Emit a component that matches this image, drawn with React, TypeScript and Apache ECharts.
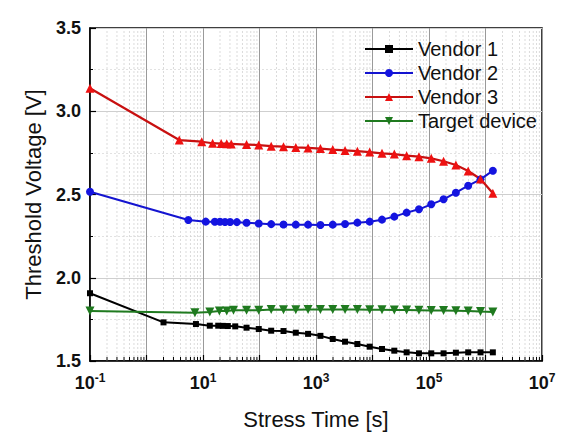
import React, { useEffect, useRef } from 'react';
import * as echarts from 'echarts';

// stress time [s] / threshold voltage [V]
const vendor1Times = [0.1, 2.0, 7.5, 13.2, 18.6, 22.4, 27.5, 37.2, 59, 97, 161, 266, 439, 724, 1197, 1977, 3266, 5395, 8913, 14723, 24322, 40179, 66374, 109648, 181134, 299226, 494311, 816582, 1348963];
const vendor1Values = [1.907, 1.732, 1.722, 1.712, 1.712, 1.711, 1.71, 1.708, 1.70, 1.692, 1.682, 1.68, 1.67, 1.663, 1.651, 1.632, 1.616, 1.602, 1.586, 1.572, 1.562, 1.552, 1.546, 1.546, 1.546, 1.55, 1.552, 1.552, 1.552];

const vendor2Times = [0.1, 5.5, 11.2, 16.2, 20, 24.5, 30.2, 39.8, 59, 97, 161, 266, 439, 724, 1197, 1977, 3266, 5395, 8913, 14723, 24322, 40179, 66374, 109648, 181134, 299226, 494311, 816582, 1348963];
const vendor2Values = [2.517, 2.347, 2.337, 2.336, 2.336, 2.335, 2.335, 2.334, 2.33, 2.326, 2.322, 2.32, 2.319, 2.319, 2.317, 2.319, 2.323, 2.331, 2.337, 2.349, 2.367, 2.391, 2.411, 2.441, 2.471, 2.511, 2.553, 2.591, 2.643];

const vendor3Times = [0.1, 3.8, 9.5, 14.8, 21, 26.3, 31.6, 59, 97, 161, 266, 439, 724, 1197, 1977, 3266, 5395, 8913, 14723, 24322, 40179, 66374, 109648, 181134, 299226, 494311, 816582, 1348963];
const vendor3Values = [3.138, 2.827, 2.817, 2.808, 2.806, 2.805, 2.804, 2.80, 2.797, 2.79, 2.787, 2.783, 2.78, 2.776, 2.77, 2.765, 2.76, 2.755, 2.747, 2.743, 2.733, 2.727, 2.717, 2.70, 2.677, 2.641, 2.593, 2.507];

const targetTimes = [0.1, 7.2, 13.2, 19.5, 26.3, 34.7, 59, 97, 161, 266, 439, 724, 1197, 1977, 3266, 5395, 8913, 14723, 24322, 40179, 66374, 109648, 181134, 299226, 494311, 816582, 1348963];
const targetValues = [1.80, 1.79, 1.795, 1.80, 1.80, 1.805, 1.805, 1.805, 1.81, 1.808, 1.808, 1.81, 1.81, 1.81, 1.81, 1.81, 1.808, 1.808, 1.806, 1.806, 1.805, 1.804, 1.803, 1.802, 1.80, 1.797, 1.795];

const seriesNames = ['Vendor 1', 'Vendor 2', 'Vendor 3', 'Target device'];

// log axis decades and the minor tick multipliers inside each decade
const decades = [-1, 0, 1, 2, 3, 4, 5, 6];
const minorSteps = [2, 3, 4, 5, 6, 7, 8, 9];

const pairs = (xs: number[], ys: number[]) => xs.map((x, i) => [x, ys[i]]);

const App: React.FC = () => {
  const chartRef = useRef<HTMLDivElement>(null);

  useEffect(() => {
    if (!chartRef.current) return;
    const chart = echarts.init(chartRef.current, undefined, { renderer: 'svg' });

    const minorTicks = decades.flatMap(d => minorSteps.map(m => [m * Math.pow(10, d), 1.5]));
    const font = 'Liberation Sans, Arial, sans-serif';

    const option: any = {
      animation: false,
      backgroundColor: '#fff',
      textStyle: { fontFamily: font },
      grid: {
        left: 90,
        right: 34,
        top: 28,
        bottom: 80,
        show: true,
        borderColor: '#000',
        borderWidth: 1.5,
        backgroundColor: 'transparent'
      },
      legend: {
        data: seriesNames,
        orient: 'vertical',
        left: 359,
        top: 33,
        itemWidth: 48,
        itemHeight: 10,
        itemGap: 2,
        textStyle: { fontSize: 20, color: '#111', lineHeight: 22, fontFamily: font }
      },
      xAxis: {
        type: 'log',
        logBase: 10,
        min: 0.1,
        max: 1e7,
        name: 'Stress Time [s]',
        nameLocation: 'middle',
        nameGap: 47,
        nameTextStyle: { fontSize: 22, color: '#111', fontFamily: font },
        axisLine: { lineStyle: { color: '#000', width: 1.5 } },
        axisTick: { inside: true, length: 6, lineStyle: { color: '#000', width: 1.2 } },
        axisLabel: {
          interval: 0,
          margin: 11,
          formatter: (v: number) => {
            const e = Math.round(Math.log10(v));
            if (e % 2 === 0) return '';
            return `{b|10}{s|${e}}`;
          },
          rich: {
            b: { fontSize: 18, fontWeight: 'bold', color: '#111', fontFamily: font, lineHeight: 22 },
            s: { fontSize: 12, fontWeight: 'bold', color: '#111', fontFamily: font, verticalAlign: 'top', lineHeight: 12 }
          }
        },
        splitLine: { show: true, lineStyle: { color: '#9a9a9a', width: 1 } }
      },
      yAxis: {
        type: 'value',
        min: 1.5,
        max: 3.5,
        interval: 0.5,
        name: 'Threshold Voltage [V]',
        nameLocation: 'middle',
        nameGap: 46,
        nameTextStyle: { fontSize: 22, color: '#111', fontFamily: font },
        axisLine: { show: true, lineStyle: { color: '#000', width: 1.5 } },
        axisTick: { inside: true, length: 6, lineStyle: { color: '#000', width: 1.2 } },
        minorTick: { show: true, splitNumber: 2, length: 3, lineStyle: { color: '#000', width: 1 } },
        axisLabel: {
          fontSize: 18,
          fontWeight: 'bold',
          color: '#111',
          margin: 9,
          formatter: (v: number) => v.toFixed(1)
        },
        splitLine: { show: true, lineStyle: { color: '#cfcfcf', width: 1 } },
        minorSplitLine: { show: true, lineStyle: { color: '#dadada', width: 0.8, type: [2, 2] } }
      },
      series: [
        {
          name: 'minor',
          type: 'custom',
          z: 1,
          silent: true,
          encode: { x: 0, y: 1 },
          data: minorTicks,
          renderItem: (_params: any, api: any) => {
            const t = api.value(0);
            const bottom = api.coord([t, 1.5]);
            const top = api.coord([t, 3.5]);
            return {
              type: 'group',
              children: [
                {
                  type: 'line',
                  shape: { x1: bottom[0], y1: bottom[1], x2: top[0], y2: top[1] },
                  style: { stroke: '#d2d2d2', lineWidth: 0.8, lineDash: [2, 2] }
                },
                {
                  type: 'line',
                  shape: { x1: bottom[0], y1: bottom[1], x2: bottom[0], y2: bottom[1] - 4 },
                  style: { stroke: '#000', lineWidth: 1 }
                }
              ]
            };
          }
        },
        {
          name: 'Vendor 1',
          type: 'line',
          data: pairs(vendor1Times, vendor1Values),
          symbol: 'rect',
          symbolSize: 6,
          itemStyle: { color: '#000' },
          lineStyle: { color: '#000', width: 2 }
        },
        {
          name: 'Vendor 2',
          type: 'line',
          data: pairs(vendor2Times, vendor2Values),
          symbol: 'circle',
          symbolSize: 8,
          itemStyle: { color: '#1414e0' },
          lineStyle: { color: '#1414d0', width: 2 }
        },
        {
          name: 'Vendor 3',
          type: 'line',
          data: pairs(vendor3Times, vendor3Values),
          symbol: 'triangle',
          symbolSize: 9,
          itemStyle: { color: '#ee1111' },
          lineStyle: { color: '#c81010', width: 2.2 }
        },
        {
          name: 'Target device',
          type: 'line',
          data: pairs(targetTimes, targetValues),
          symbol: 'triangle',
          symbolRotate: 180,
          symbolSize: 9,
          itemStyle: { color: '#1f7a1f' },
          lineStyle: { color: '#1f7a1f', width: 2 }
        }
      ]
    };

    chart.setOption(option);
    return () => {
      chart.dispose();
    };
  }, []);

  return (
    <div
      ref={chartRef}
      style={{ position: 'fixed', left: 0, top: 0, width: 576, height: 441, background: '#fff' }}
    />
  );
};

export default App;
